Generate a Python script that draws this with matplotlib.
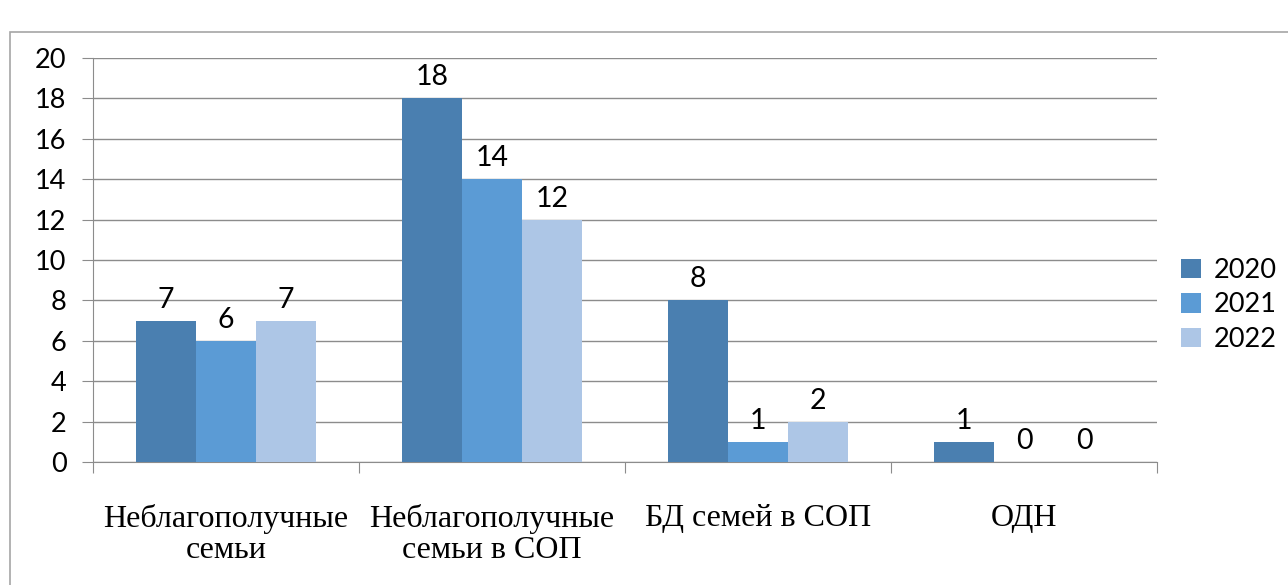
import matplotlib.pyplot as plt
import numpy as np
from matplotlib.patches import Rectangle

# данные
categories = ["Неблагополучные\nсемьи", "Неблагополучные\nсемьи в СОП", "БД семей в СОП", "ОДН"]
years = ["2020", "2021", "2022"]
v2020 = [7, 18, 8, 1]
v2021 = [6, 14, 1, 0]
v2022 = [7, 12, 2, 0]
colors = ["#4a7fb0", "#5b9bd5", "#adc6e6"]

sans = ["Lato", "DejaVu Sans"]
serif = ["Liberation Serif", "DejaVu Serif"]

fig = plt.figure(figsize=(12.88, 5.85), dpi=100)
W, H = 1288, 585
ax = fig.add_axes([93 / W, 1 - 462 / H, (1157 - 93) / W, (462 - 58) / H])

# рамка диаграммы
fig.patches.append(Rectangle((10 / W, -0.1), 1.2, 1 - 32 / H + 0.1, transform=fig.transFigure,
                             fill=False, edgecolor="#a6a6a6", linewidth=1.2))

x = np.arange(len(categories))
w = 0.2256
series = [v2020, v2021, v2022]
for i, vals in enumerate(series):
    bars = ax.bar(x + (i - 1) * w, vals, width=w, color=colors[i], label=years[i], zorder=3)
    for b, v in zip(bars, vals):
        ax.text(b.get_x() + b.get_width() / 2, v + 0.4, str(v), ha="center", va="bottom",
                fontsize=20.5, family=sans)

ax.set_xlim(-0.5, len(categories) - 0.5)
ax.set_ylim(0, 20)
ax.set_yticks(range(0, 21, 2))
ax.yaxis.grid(True, color="#8c8c8c", linewidth=1.0, zorder=0)
for s in ["top", "right"]:
    ax.spines[s].set_visible(False)
ax.spines["left"].set_color("#8c8c8c")
ax.spines["bottom"].set_color("#8c8c8c")
ax.tick_params(axis="y", length=8, color="#8c8c8c", labelsize=19.5, pad=11)
for lbl in ax.get_yticklabels():
    lbl.set_family(sans)

# метки категорий и засечки между ними
ax.set_xticks(np.arange(-0.5, len(categories), 1.0))
ax.set_xticklabels([])
ax.tick_params(axis="x", length=8, color="#8c8c8c", direction="out")
for xi, c in zip(x, categories):
    ax.annotate(c, xy=(xi, 0), xycoords=("data", "axes fraction"), xytext=(0, -30),
                textcoords="offset points", ha="center", va="top", fontsize=23,
                family=serif, linespacing=1.12)

leg = fig.legend(loc="center left", bbox_to_anchor=(1181 / W, 1 - 305 / H), frameon=False,
                 prop={"family": sans, "size": 19.5}, handlelength=0.72, handleheight=0.72,
                 handletextpad=0.5, labelspacing=0.35, borderpad=0, borderaxespad=0)

fig.savefig("out.png", dpi=100)
